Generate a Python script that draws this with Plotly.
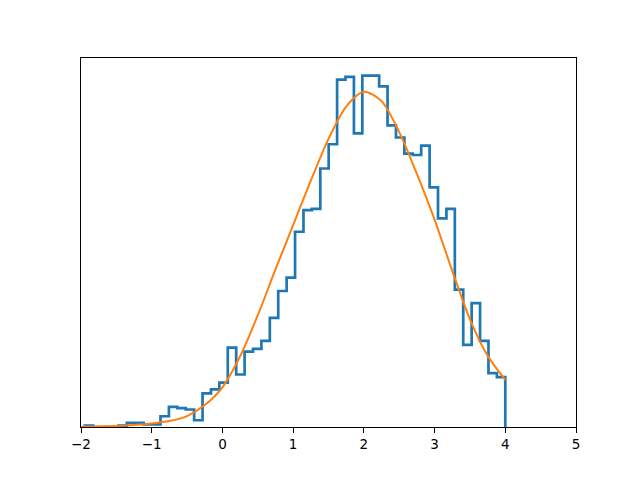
import numpy as np
import plotly.graph_objects as go

# Histogram (50 bins from data min to data max)
bin_start = -1.946
bin_end = 4.0
counts = [1, 0, 0, 0, 1, 3, 3, 2, 2, 8,
          15, 14, 13, 5, 25, 28, 33, 59, 39, 56,
          58, 64, 81, 101, 111, 145, 161, 162, 192, 210,
          258, 260, 218, 261, 261, 253, 224, 215, 203, 202,
          209, 178, 155, 162, 102, 61, 92, 64, 40, 37]

# Fitted curve
curve_x = [-2.0, -1.75, -1.5, -1.25, -1.0, -0.75, -0.5, -0.25, 0.0, 0.25,
           0.5, 0.75, 1.0, 1.25, 1.5, 1.75, 2.0, 2.25, 2.5, 2.75,
           3.0, 3.25, 3.5, 3.75, 4.0]
curve_y = [0.15, 0.4, 0.7, 1.5, 2.6, 4.4, 8.1, 16.3, 29.5, 52.5,
           83, 117, 150, 183, 214, 238, 249, 242, 219, 188,
           154, 116, 80, 53, 35]

x_ticks = [-2, -1, 0, 1, 2, 3, 4, 5]

edges = np.linspace(bin_start, bin_end, len(counts) + 1)
step_x = [edges[0]] + list(edges[:-1]) + [edges[-1], edges[-1]]
step_y = [0] + list(counts) + [counts[-1], 0]

fig = go.Figure()
fig.add_trace(go.Scatter(x=step_x, y=step_y, mode="lines", line_shape="hv",
                         line=dict(color="#1f77b4", width=2.7), showlegend=False))
fig.add_trace(go.Scatter(x=curve_x, y=curve_y, mode="lines",
                         line=dict(color="#ff7f0e", width=2, shape="spline", smoothing=0.8),
                         showlegend=False))

ymax = max(counts) * 1.05
fig.update_layout(
    width=640, height=480,
    margin=dict(l=73, r=72, t=50, b=61),
    paper_bgcolor="white", plot_bgcolor="white",
    font=dict(family="DejaVu Sans", size=13.5, color="black"),
    xaxis=dict(range=[-2, 5], tickvals=x_ticks, ticks="outside", ticklen=5,
               tickwidth=1, tickcolor="black", showline=True, linecolor="black",
               linewidth=1, mirror=True, showgrid=False, zeroline=False),
    yaxis=dict(range=[0, ymax], showticklabels=False, ticks="", showline=True,
               linecolor="black", linewidth=1, mirror=True, showgrid=False,
               zeroline=False),
)
fig.write_html("out.html")
